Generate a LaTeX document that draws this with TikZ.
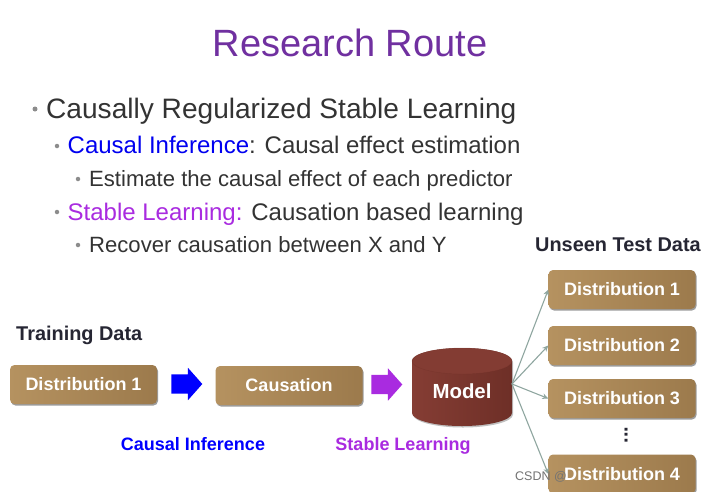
\documentclass[tikz,border=0pt]{standalone}
\usepackage{fontspec}
\setmainfont{Liberation Sans}
\usetikzlibrary{shapes.geometric,shapes.arrows,arrows.meta,shadows}
\definecolor{titlec}{HTML}{7030A0}
\definecolor{bodyc}{HTML}{333333}
\definecolor{dotc}{HTML}{8C8C8C}
\definecolor{blueb}{HTML}{0000F0}
\definecolor{purpb}{HTML}{A92BE0}
\definecolor{headc}{HTML}{262633}
\definecolor{goldl}{HTML}{B59260}
\definecolor{goldd}{HTML}{9C7A4C}
\definecolor{modelc}{HTML}{6E2F27}
\definecolor{modeld}{HTML}{853D34}
\definecolor{linkc}{HTML}{8FA6A0}
\tikzset{
 x=1pt,y=-1pt,
 goldbox/.style={rounded corners=4.5pt,left color=goldl,right color=goldd,
   minimum height=39pt,minimum width=147pt,inner sep=0pt,
   text=white,font=\fontsize{18}{20}\selectfont\bfseries,
   drop shadow={shadow xshift=1pt,shadow yshift=-1.5pt,opacity=.55,fill=black!70}},
 bullet/.style={anchor=base west,inner sep=0pt,font=\fontsize{#1}{#1}\selectfont,text=bodyc},
 dotmark/.style={circle,fill=dotc,inner sep=0pt,minimum size=#1},
 head/.style={anchor=base west,inner sep=0pt,text=headc,font=\fontsize{19.9}{22}\selectfont\bfseries},
 lab/.style={anchor=base,inner sep=0pt,font=\fontsize{18}{20}\selectfont\bfseries},
 bigarrow/.style={single arrow,draw=none,fill=#1,inner sep=9.5pt,minimum height=31pt,
   single arrow head extend=6.5pt,single arrow tip angle=97},
 link/.style={draw=linkc,line width=1.1pt,-{Stealth[length=6pt,width=5.5pt]}},
}
\begin{document}
\begin{tikzpicture}
\useasboundingbox[fill=white] (0,0) rectangle (708,491);
\node[anchor=base,inner sep=0pt,text=titlec,font=\fontsize{38}{44}\selectfont] (title) at (350,56) {Research Route};
\node[dotmark=5pt] (d1) at (35,109) {};
\node[bullet=28.1] (t1) at (46,118) {Causally Regularized Stable Learning};
\node[dotmark=4.5pt] (d2) at (57,146) {};
\node[bullet=24] (t2) at (67.5,153) {\textcolor{blueb}{Causal Inference}: Causal effect estimation};
\node[dotmark=4.5pt] (d3) at (78,179) {};
\node[bullet=22.1] (t3) at (89,186) {Estimate the causal effect of each predictor};
\node[dotmark=4.5pt] (d4) at (57,212) {};
\node[bullet=24] (t4) at (67.5,220) {\textcolor{purpb}{Stable Learning:} Causation based learning};
\node[dotmark=4.5pt] (d5) at (78,245) {};
\node[bullet=22.1] (t5) at (89,252) {Recover causation between X and Y};
\node[head] (train) at (16,340) {Training Data};
\node[head] (unseen) at (535,251) {Unseen Test Data};
\node[goldbox] (a) at (83.5,384.5) {Distribution 1};
\node[goldbox] (b) at (289,385.5) {Causation};
\node[bigarrow=blue] (ar1) at (182.5,384) {};
\node[bigarrow=purpb] (ar2) at (382.5,384.5) {};
% model cylinder
\path[left color=modeld,right color=modelc,drop shadow={shadow xshift=1pt,shadow yshift=-1.5pt,opacity=.35,fill=black!70}]
  (412,361) -- (412,413) arc[start angle=180,end angle=360,x radius=50,y radius=-13] -- (512,361)
  arc[start angle=0,end angle=180,x radius=50,y radius=-13] -- cycle;
\draw[draw=modelc,draw opacity=.4,fill=modeld!92!modelc] (412,361) arc[start angle=180,end angle=360,x radius=50,y radius=-13]
  arc[start angle=0,end angle=180,x radius=50,y radius=-13] -- cycle;
\node[inner sep=0pt,text=white,font=\fontsize{20.4}{22}\selectfont\bfseries] (model) at (462,391) {Model};
\coordinate (hub) at (512,384);
\node[goldbox] (d1b) at (622,289.5) {Distribution 1};
\node[goldbox] (d2b) at (622,345.5) {Distribution 2};
\node[goldbox] (d3b) at (622,398.5) {Distribution 3};
\node[goldbox] (d4b) at (622,474) {Distribution 4};
\draw[link] (hub) -- (d1b.west);
\draw[link] (hub) -- (d2b.west);
\draw[link] (hub) -- (d3b.west);
\draw[link] (hub) -- (d4b.west);
\node[inner sep=0pt,text=headc,font=\fontsize{20}{20}\selectfont\bfseries] (vd) at (626,435) {\rotatebox{90}{...}};
\node[lab,text=blue] (ci) at (193,450) {Causal Inference};
\node[lab,text=purpb] (sl) at (403,450) {Stable Learning};
\node[anchor=base west,inner sep=0pt,text=black!55,font=\fontsize{12.5}{14}\selectfont] (wm) at (515,480) {CSDN @};
\end{tikzpicture}
\end{document}
